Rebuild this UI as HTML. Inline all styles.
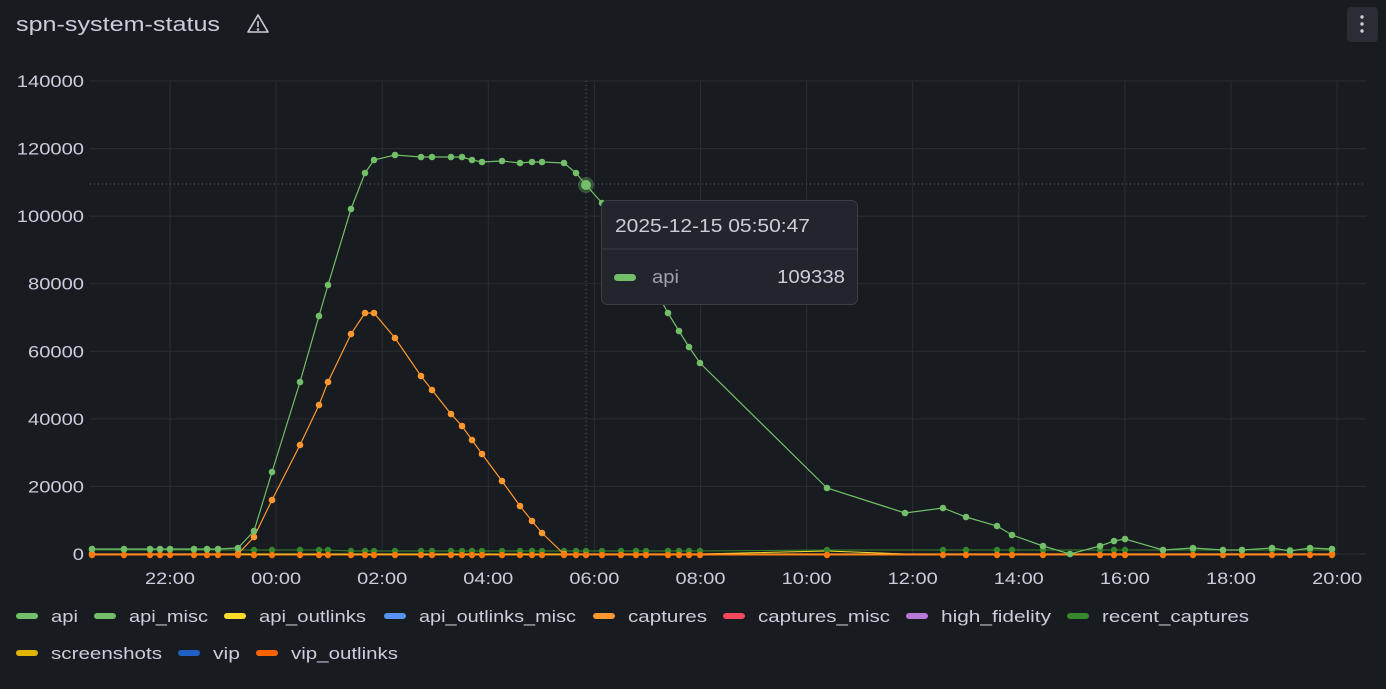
<!DOCTYPE html>
<html><head><meta charset="utf-8"><style>
body{margin:0;background:#181b1f;width:1386px;height:684px;overflow:hidden;font-family:"Liberation Sans",sans-serif}
svg text{font-family:"Liberation Sans",sans-serif}
</style></head><body>
<svg id="s" width="1386" height="684" xmlns="http://www.w3.org/2000/svg">
<rect width="1386" height="684" fill="#181b1f"/>
<text x="16" y="31" fill="#ccccdc" font-size="20" textLength="204" lengthAdjust="spacingAndGlyphs">spn-system-status</text>
<g transform="translate(258,24)" fill="none" stroke="#ccccdc" stroke-width="1.6"><path d="M0,-9 L10,8 L-10,8 Z" stroke-linejoin="round"/><line x1="0" y1="-3" x2="0" y2="3"/><circle cx="0" cy="5.5" r="0.5"/></g>
<rect x="1347" y="7" width="31" height="35" rx="4" fill="#2a2d33"/>
<circle cx="1362" cy="17" r="1.7" fill="#ccccdc"/><circle cx="1362" cy="24" r="1.7" fill="#ccccdc"/><circle cx="1362" cy="31" r="1.7" fill="#ccccdc"/>
<g id="grid"></g><g id="ser"></g>
</svg>
<script>
const NS="http://www.w3.org/2000/svg",s=document.getElementById('s'),g=document.getElementById('grid'),se=document.getElementById('ser');
function el(p,t,a,txt){const e=document.createElementNS(NS,t);for(const k in a)e.setAttribute(k,a[k]);if(txt!=null)e.textContent=txt;p.appendChild(e);return e;}
const L=90,R=1366;
for(let i=0;i<=7;i++){const y=554-i*67.57;el(g,'line',{x1:L,x2:R,y1:y,y2:y,stroke:'#2a2d32','stroke-width':1});const t=String(i*20000);el(g,'text',{x:84,y:y+6,fill:'#ccccdc','font-size':17,'text-anchor':'end',textLength:t.length*11.2,lengthAdjust:'spacingAndGlyphs'},t);}
const xl=['22:00','00:00','02:00','04:00','06:00','08:00','10:00','12:00','14:00','16:00','18:00','20:00'];
xl.forEach((t,i)=>{const x=170+i*106.1;el(g,'line',{x1:x,x2:x,y1:81,y2:554,stroke:'#2a2d32'});el(g,'text',{x:x-25,y:584,fill:'#ccccdc','font-size':17,textLength:50,lengthAdjust:'spacingAndGlyphs'},t);});
function ser(pts,c,r,w){el(se,'polyline',{points:pts.map(p=>p.join(',')).join(' '),fill:'none',stroke:c,'stroke-width':w||1.2});if(r>0)pts.forEach(p=>el(se,'circle',{cx:p[0],cy:p[1],r:r,fill:c}));}
const xs=[92,124,150,160,170,194,207,218,238,254,272,300,319,328,351,365,374,395,421,432,451,462,472,482,502,520,532,542,564,576,586,602,621,636,646,668,679,689,700,827,943,966,997,1012,1043,1100,1114,1125,1163,1193,1223,1242,1272,1290,1310,1332];
ser([[92,554],[700,554],[827,551],[905,554],[1332,554]],'#fade2a',0,1);
ser(xs.map(x=>[x,x>=351&&x<=700?551:550]),'#37872d',3.2,1);
ser([[92,554],[238,554],[254,537],[272,500],[300,445],[319,405],[328,382],[351,334],[365,313],[374,313],[395,338],[421,376],[432,390],[451,414],[462,426],[472,440],[482,454],[502,481],[520,506],[532,521],[542,533],[564,554],[1332,554]],'#ff9830',3.3);
ser(xs.map(x=>[x,555]),'#ff780a',3.2,1);
ser([[92,549],[124,549],[150,549],[160,549],[170,549],[194,549],[207,549],[218,549],[238,548],[254,531],[272,472],[300,382],[319,316],[328,285],[351,209],[365,173],[374,160],[395,155],[421,157],[432,157],[451,157],[462,157],[472,160],[482,162],[502,161],[520,163],[532,162],[542,162],[564,163],[576,173],[586,185],[602,203],[625,240],[648,277],[668,313],[679,331],[689,347],[700,363],[827,488],[905,513],[943,508],[966,517],[997,526],[1012,535],[1043,546],[1070,554],[1100,546],[1114,541],[1125,539],[1163,550],[1193,548],[1223,550],[1242,550],[1272,548],[1290,551],[1310,548],[1332,549]],'#73bf69',3.3);
el(se,'line',{x1:586,x2:586,y1:81,y2:554,stroke:'#5a5c63','stroke-dasharray':'1,3','stroke-width':1});
el(se,'line',{x1:90,x2:1366,y1:184,y2:184,stroke:'#5a5c63','stroke-dasharray':'1,3','stroke-width':1});
el(se,'circle',{cx:586,cy:185,r:8,fill:'#73bf69','fill-opacity':0.35});
el(se,'circle',{cx:586,cy:185,r:5,fill:'#73bf69'});
el(se,'rect',{x:601.5,y:200.5,width:256,height:104,rx:6,fill:'#22252b',stroke:'#3a3d44'});
el(se,'line',{x1:602,x2:857,y1:249,y2:249,stroke:'#3a3d44'});
el(se,'text',{x:615,y:232,fill:'#ccccdc','font-size':18,textLength:195,lengthAdjust:'spacingAndGlyphs'},'2025-12-15 05:50:47');
el(se,'rect',{x:614,y:274,width:22,height:7,rx:3.5,fill:'#73bf69'});
el(se,'text',{x:652,y:283,fill:'#9da0a8','font-size':18,textLength:27,lengthAdjust:'spacingAndGlyphs'},'api');
el(se,'text',{x:777,y:283,fill:'#ccccdc','font-size':18,textLength:68,lengthAdjust:'spacingAndGlyphs'},'109338');
const leg=[['api','#73bf69',51,616,27],['api_misc','#73bf69',129,616,79],['api_outlinks','#fade2a',259,616,107],['api_outlinks_misc','#5794f2',419,616,157],['captures','#ff9830',628,616,79],['captures_misc','#f2495c',758,616,132],['high_fidelity','#b877d9',941,616,110],['recent_captures','#37872d',1102,616,147],['screenshots','#e0b400',51,653,111],['vip','#1f60c4',213,653,27],['vip_outlinks','#fa6400',291,653,107]];
leg.forEach(([t,c,x,y,w])=>{el(se,'rect',{x:x-35,y:y-3,width:22,height:6,rx:3,fill:c});el(se,'text',{x:x,y:y+6,fill:'#ccccdc','font-size':17,textLength:w,lengthAdjust:'spacingAndGlyphs'},t);});
</script>
</body></html>
